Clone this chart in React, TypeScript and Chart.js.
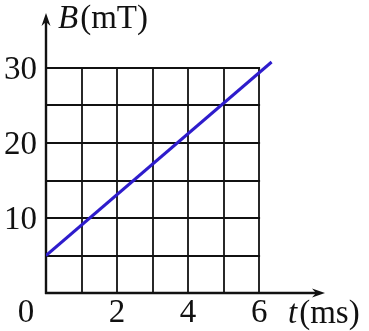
import React, { useEffect, useRef } from "react";
import { Chart, registerables } from "chart.js";

Chart.register(...registerables);

// Data
const timeMs = [0, 6.35];
const fieldMT = [5, 30.8];
const gridTimes = [0, 1, 2, 3, 4, 5, 6];
const gridFields = [0, 5, 10, 15, 20, 25, 30];
const xTickLabels = [2, 4, 6];
const yTickLabels = [10, 20, 30];
const xTitleVar = "t";
const xTitleUnit = "(ms)";
const yTitleVar = "B";
const yTitleUnit = "(mT)";
const originLabel = "0";

const FONT = "'Liberation Serif', 'DejaVu Serif', serif";
const FS = 33;

const drawPlugin = {
  id: "physicsGrid",
  beforeDatasetsDraw(chart: any) {
    const { ctx } = chart;
    const xs = chart.scales.x;
    const ys = chart.scales.y;
    const x0 = xs.getPixelForValue(0);
    const x6 = xs.getPixelForValue(gridTimes[gridTimes.length - 1]);
    const y0 = ys.getPixelForValue(0);
    const y30 = ys.getPixelForValue(gridFields[gridFields.length - 1]);
    ctx.save();
    ctx.strokeStyle = "#111";
    ctx.lineWidth = 1.8;
    gridTimes.forEach((t) => {
      if (t === 0) return;
      const px = Math.round(xs.getPixelForValue(t));
      ctx.beginPath();
      ctx.moveTo(px, y0);
      ctx.lineTo(px, y30 - 0.9);
      ctx.stroke();
    });
    gridFields.forEach((f) => {
      if (f === 0) return;
      const py = Math.round(ys.getPixelForValue(f));
      ctx.beginPath();
      ctx.moveTo(x0, py);
      ctx.lineTo(x6 + 0.9, py);
      ctx.stroke();
    });
    // axes
    ctx.lineWidth = 2.4;
    const yTip = 13;
    const xTip = 325;
    ctx.beginPath();
    ctx.moveTo(x0, y0 + 1);
    ctx.lineTo(x0, yTip + 6);
    ctx.stroke();
    ctx.beginPath();
    ctx.moveTo(x0 - 1, y0);
    ctx.lineTo(xTip - 6, y0);
    ctx.stroke();
    ctx.fillStyle = "#111";
    ctx.beginPath();
    ctx.moveTo(x0, yTip);
    ctx.lineTo(x0 + 4.5, yTip + 13);
    ctx.lineTo(x0, yTip + 9);
    ctx.lineTo(x0 - 4.5, yTip + 13);
    ctx.closePath();
    ctx.fill();
    ctx.beginPath();
    ctx.moveTo(xTip, y0);
    ctx.lineTo(xTip - 13, y0 - 4.5);
    ctx.lineTo(xTip - 9, y0);
    ctx.lineTo(xTip - 13, y0 + 4.5);
    ctx.closePath();
    ctx.fill();
    ctx.restore();
  },
  afterDraw(chart: any) {
    const { ctx } = chart;
    const xs = chart.scales.x;
    const ys = chart.scales.y;
    const x0 = xs.getPixelForValue(0);
    const y0 = ys.getPixelForValue(0);
    ctx.save();
    ctx.fillStyle = "#111";
    ctx.font = `${FS}px ${FONT}`;
    ctx.textBaseline = "alphabetic";
    ctx.textAlign = "right";
    yTickLabels.forEach((v) => {
      ctx.fillText(String(v), x0 - 9, ys.getPixelForValue(v) + 11);
    });
    ctx.textAlign = "center";
    xTickLabels.forEach((v) => {
      ctx.fillText(String(v), xs.getPixelForValue(v), y0 + 29);
    });
    ctx.fillText(originLabel, x0 - 20, y0 + 29);
    // titles
    ctx.textAlign = "left";
    ctx.font = `italic ${FS}px ${FONT}`;
    const bx = x0 + 12;
    const by = 28;
    ctx.fillText(yTitleVar, bx, by);
    let w = ctx.measureText(yTitleVar).width;
    ctx.font = `${FS}px ${FONT}`;
    ctx.fillText(yTitleUnit, bx + w + 2, by);
    const tx = 288;
    const ty = 323;
    ctx.font = `italic ${FS}px ${FONT}`;
    ctx.fillText(xTitleVar, tx, ty);
    w = ctx.measureText(xTitleVar).width;
    ctx.font = `${FS}px ${FONT}`;
    ctx.fillText(xTitleUnit, tx + w + 2, ty);
    ctx.restore();
  },
};

export default function App() {
  const ref = useRef<HTMLCanvasElement | null>(null);
  useEffect(() => {
    if (!ref.current) return;
    const chart = new Chart(ref.current, {
      type: "line",
      data: {
        datasets: [
          {
            data: timeMs.map((t, i) => ({ x: t, y: fieldMT[i] })),
            borderColor: "#2e1ccc",
            borderWidth: 3,
            pointRadius: 0,
            fill: false,
          },
        ],
      },
      options: {
        animation: false,
        responsive: false,
        maintainAspectRatio: false,
        layout: { padding: { left: 46, right: 21, top: 8, bottom: 38 } },
        plugins: { legend: { display: false }, tooltip: { enabled: false } },
        scales: {
          x: { type: "linear", min: 0, max: 8.5, display: false },
          y: { type: "linear", min: 0, max: 38, display: false },
        },
      },
      plugins: [drawPlugin],
    });
    return () => chart.destroy();
  }, []);
  return (
    <div style={{ position: "absolute", left: 0, top: 0, width: 369, height: 331, background: "#fff" }}>
      <canvas ref={ref} width={369} height={331} style={{ width: 369, height: 331 }} />
    </div>
  );
}
